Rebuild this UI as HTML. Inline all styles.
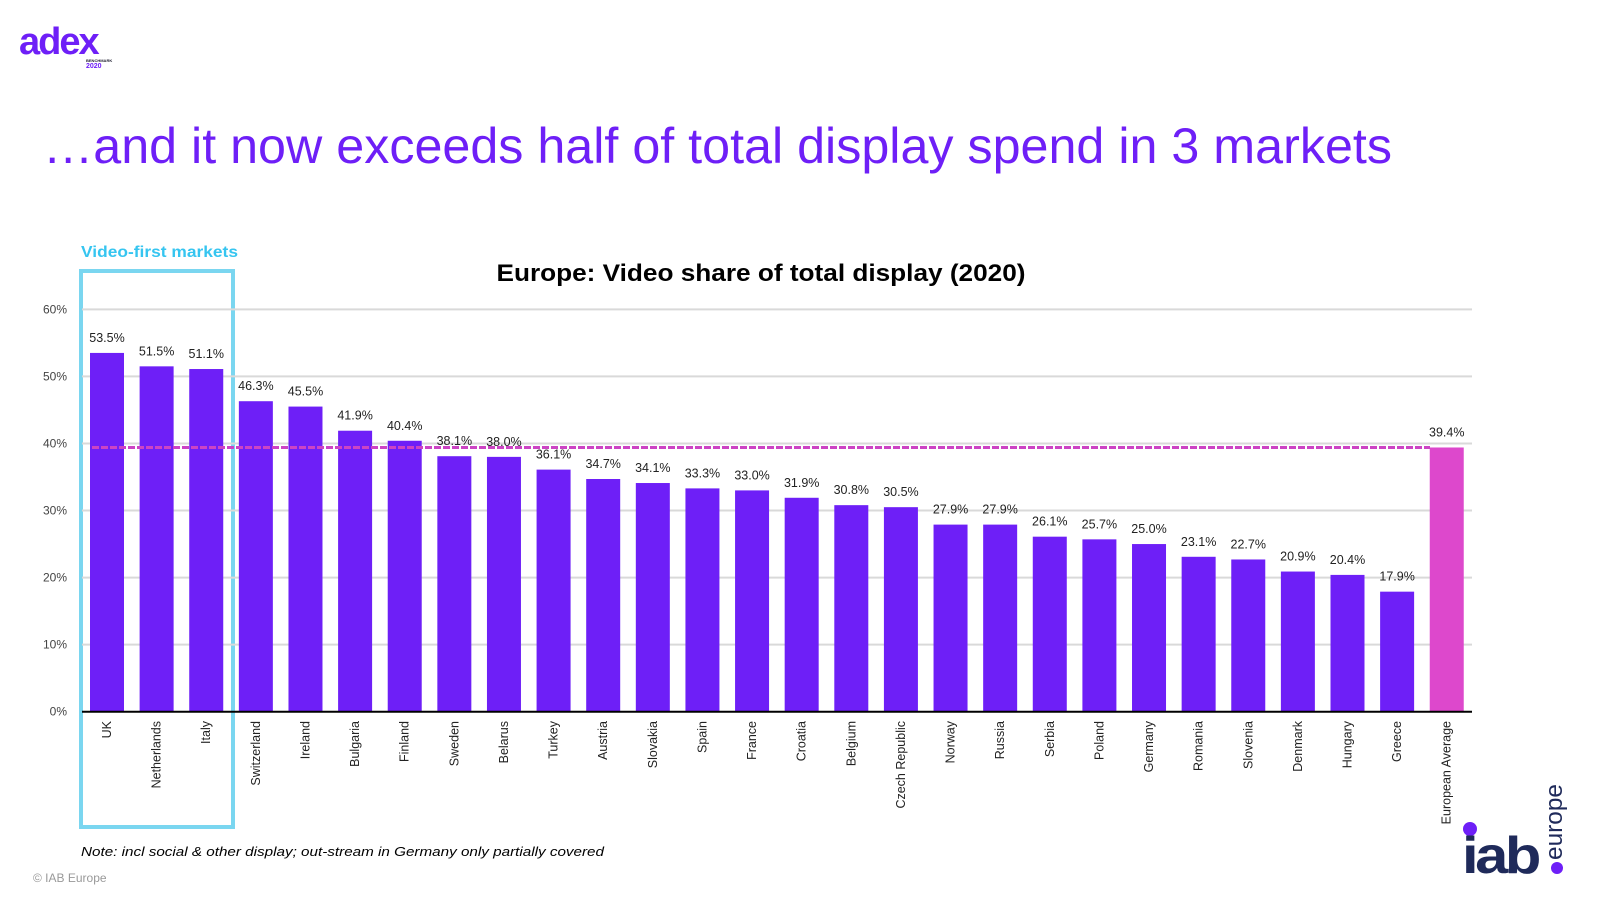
<!DOCTYPE html>
<html><head><meta charset="utf-8"><style>
body{margin:0;background:#fff;width:1600px;height:900px;overflow:hidden;font-family:"Liberation Sans",sans-serif}
</style></head><body>
<svg width="1600" height="900" xmlns="http://www.w3.org/2000/svg">
<g>
<text x="19" y="54" font-size="38" font-weight="bold" fill="#6e1ff7" letter-spacing="-2">adex</text>
<text x="86" y="62" font-size="4" fill="#223" font-weight="bold">BENCHMARK</text>
<text x="86" y="68" font-size="7" fill="#6e1ff7" font-weight="bold">2020</text>
</g>
<text x="43" y="163" font-size="50" fill="#6e1ff7" textLength="1349" lengthAdjust="spacingAndGlyphs">…and it now exceeds half of total display spend in 3 markets</text>
<text x="81" y="257" font-size="16" font-weight="bold" fill="#36c5f0" textLength="157" lengthAdjust="spacingAndGlyphs">Video-first markets</text>
<rect x="81" y="271" width="152" height="556" fill="none" stroke="#7ad6f0" stroke-width="4"/>
<text x="761" y="281" font-size="24" font-weight="bold" fill="#000" text-anchor="middle" textLength="529" lengthAdjust="spacingAndGlyphs">Europe: Video share of total display (2020)</text>
<g id="grid"></g><g id="bars"></g>
<text x="81" y="856" font-size="13" font-style="italic" fill="#000" textLength="523" lengthAdjust="spacingAndGlyphs">Note: incl social &amp; other display; out-stream in Germany only partially covered</text>
<text x="33" y="882" font-size="12" fill="#999">© IAB Europe</text>
<g>
<circle cx="1470" cy="829" r="7" fill="#6e1ff7"/>
<text x="1462" y="873" font-size="52" font-weight="bold" fill="#1f2a5a" letter-spacing="-3" textLength="76" lengthAdjust="spacingAndGlyphs">iab</text>
<circle cx="1557" cy="868" r="6" fill="#6e1ff7"/>
<text transform="translate(1562,860) rotate(-90)" font-size="24" fill="#1f2a5a" textLength="76" lengthAdjust="spacingAndGlyphs">europe</text>
</g>
</svg>
<script>
const categories=["UK","Netherlands","Italy","Switzerland","Ireland","Bulgaria","Finland","Sweden","Belarus","Turkey","Austria","Slovakia","Spain","France","Croatia","Belgium","Czech Republic","Norway","Russia","Serbia","Poland","Germany","Romania","Slovenia","Denmark","Hungary","Greece","European Average"];
const values=[53.5,51.5,51.1,46.3,45.5,41.9,40.4,38.1,38.0,36.1,34.7,34.1,33.3,33.0,31.9,30.8,30.5,27.9,27.9,26.1,25.7,25.0,23.1,22.7,20.9,20.4,17.9,39.4];
const average=39.4;
const ticks=[0,10,20,30,40,50,60];
const NS="http://www.w3.org/2000/svg";
const y=v=>711.7-v*6.706;
const x=i=>107+i*49.62;
function mk(tag,attrs,parent,txt){const e=document.createElementNS(NS,tag);for(const k in attrs)e.setAttribute(k,attrs[k]);if(txt!==undefined)e.textContent=txt;parent.appendChild(e);return e;}
const grid=document.getElementById('grid'),bars=document.getElementById('bars');
ticks.forEach(t=>{
 if(t>0){const l=mk('line',{x1:82,x2:1472,y1:y(t),y2:y(t),stroke:'#d9d9d9','stroke-width':2},grid);
 
 }
 const tx=mk('text',{x:67,y:y(t)+4,'font-size':12,'text-anchor':'end',fill:'#444'},grid,t+'%');
 
 
});
values.forEach((v,i)=>{
 const last=i===values.length-1;
 const r=mk('rect',{x:x(i)-17,y:y(v),width:34,height:711.7-y(v),fill:last?'#dd48cc':'#6e1ff7'},bars);
 
 
 const lb=mk('text',{x:x(i),y:y(v)-11,'font-size':12.5,'text-anchor':'middle',fill:'#222'},bars,v.toFixed(1)+'%');
 
 
 const c=mk('text',{transform:`translate(${x(i)+4},721) rotate(-90)`,'font-size':12.5,'text-anchor':'end',fill:'#222'},bars,categories[i]);
 
 
});
const av=mk('line',{x1:92,x2:1430,y1:y(average),y2:y(average),stroke:'#cc44c4','stroke-width':3,'stroke-dasharray':'7,2'},bars);


const ax=mk('line',{x1:82,x2:1472,y1:711.7,y2:711.7,stroke:'#000','stroke-width':2},bars);


</script>
</body></html>
